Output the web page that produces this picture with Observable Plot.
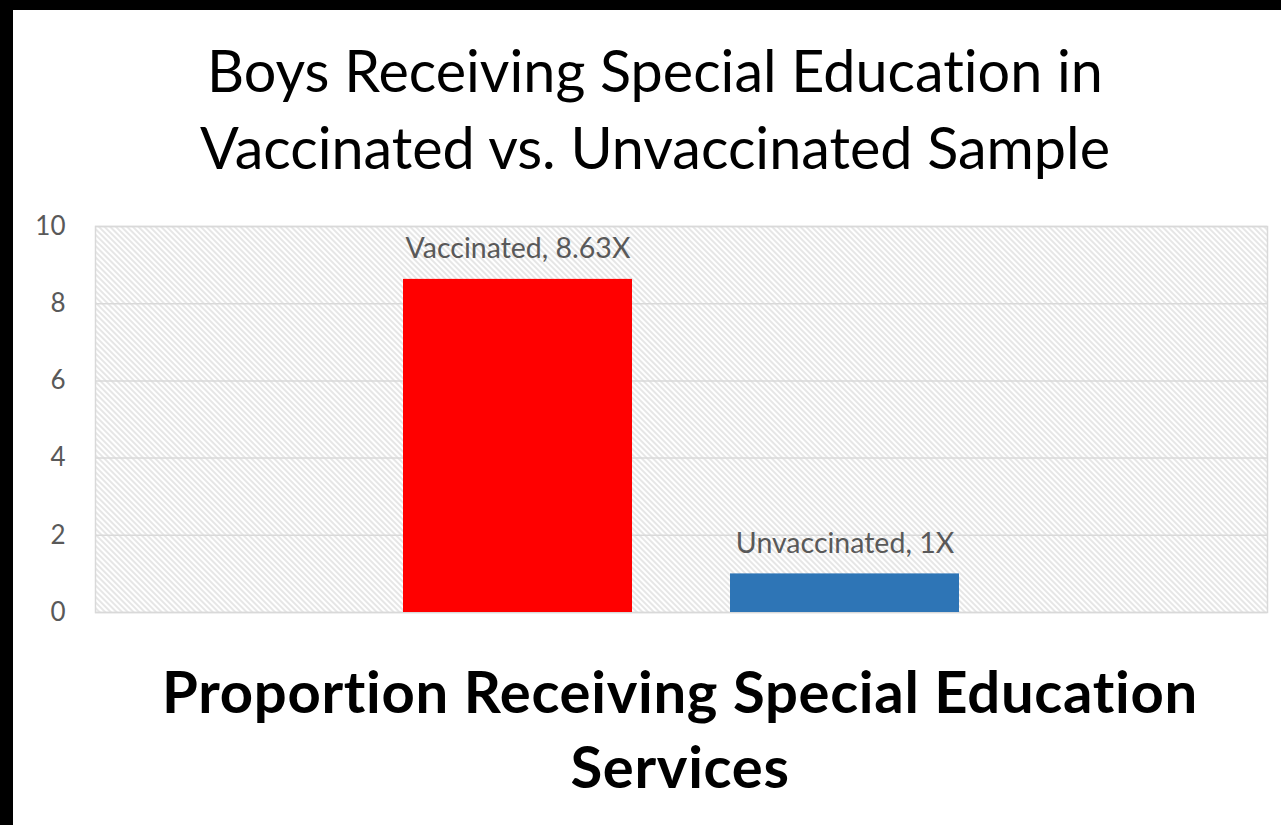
<!DOCTYPE html>
<html>
<head>
<meta charset="utf-8">
<script src="https://cdn.jsdelivr.net/npm/d3@7"></script>
<script src="https://cdn.jsdelivr.net/npm/@observablehq/plot@0.6"></script>
<style>
html, body { margin: 0; padding: 0; background: #000; width: 1281px; height: 825px; overflow: hidden; }
#panel { position: absolute; left: 13px; top: 10px; width: 1268px; height: 815px; background: #fff; }
.t { position: absolute; text-align: center; font-family: Lato, sans-serif; color: #000; white-space: nowrap; font-variant-ligatures: none; }
#title { left: 55px; width: 1200px; top: 31px; font-size: 57.5px; line-height: 77px; font-weight: 400; }
#caption { left: 80px; width: 1200px; top: 653px; font-size: 58px; line-height: 75px; font-weight: 700; letter-spacing: 0.7px; }
#chart { position: absolute; left: 0; top: 200px; }
#chart svg text { font-variant-ligatures: none; }
</style>
</head>
<body>
<div id="panel"></div>
<div id="title" class="t">Boys Receiving Special Education in<br>Vaccinated vs. Unvaccinated Sample</div>
<div id="chart"></div>
<div id="caption" class="t">Proportion Receiving Special Education<br>Services</div>
<script>
const categories = ["Vaccinated", "Unvaccinated"];
const values = [8.63, 1];
const labels = ["Vaccinated, 8.63X", "Unvaccinated, 1X"];
const colors = ["#ff0000", "#2e75b6"];
const yTicks = [0, 2, 4, 6, 8, 10];

const data = categories.map((c, i) => ({ category: c, value: values[i], label: labels[i] }));

const chart = Plot.plot({
  width: 1281,
  height: 440,
  marginTop: 26,
  marginBottom: 28,
  marginLeft: 95,
  marginRight: 14,
  style: { fontFamily: "Lato, sans-serif", background: "transparent", overflow: "visible" },
  x: { domain: categories, paddingInner: 0.2988, paddingOuter: 0.936, axis: null },
  y: { domain: [0, 10], axis: null },
  color: { domain: categories, range: colors },
  marks: [
    Plot.frame({ fill: "url(#hatch)", stroke: "#d9d9d9", strokeWidth: 1.5 }),
    Plot.gridY(yTicks, { stroke: "#d9d9d9", strokeOpacity: 1, strokeWidth: 1.5 }),
    Plot.axisY(yTicks, { tickSize: 0, tickPadding: 30, fontSize: 26, fill: "#595959", label: null }),
    Plot.barY(data, { x: "category", y: "value", fill: "category" }),
    Plot.text(data, { x: "category", y: "value", text: "label", lineAnchor: "bottom", dy: -21, fontSize: 28.5, fill: "#595959" })
  ]
});

d3.select(chart).insert("defs", ":first-child").html(
  '<pattern id="hatch" patternUnits="userSpaceOnUse" width="4" height="4" patternTransform="rotate(45)">' +
  '<rect width="4" height="4" fill="#ffffff"></rect>' +
  '<line x1="0" y1="1" x2="4" y2="1" stroke="#d6d6d6" stroke-width="1.2"></line>' +
  '</pattern>'
);

document.getElementById("chart").appendChild(chart);
</script>
</body>
</html>
